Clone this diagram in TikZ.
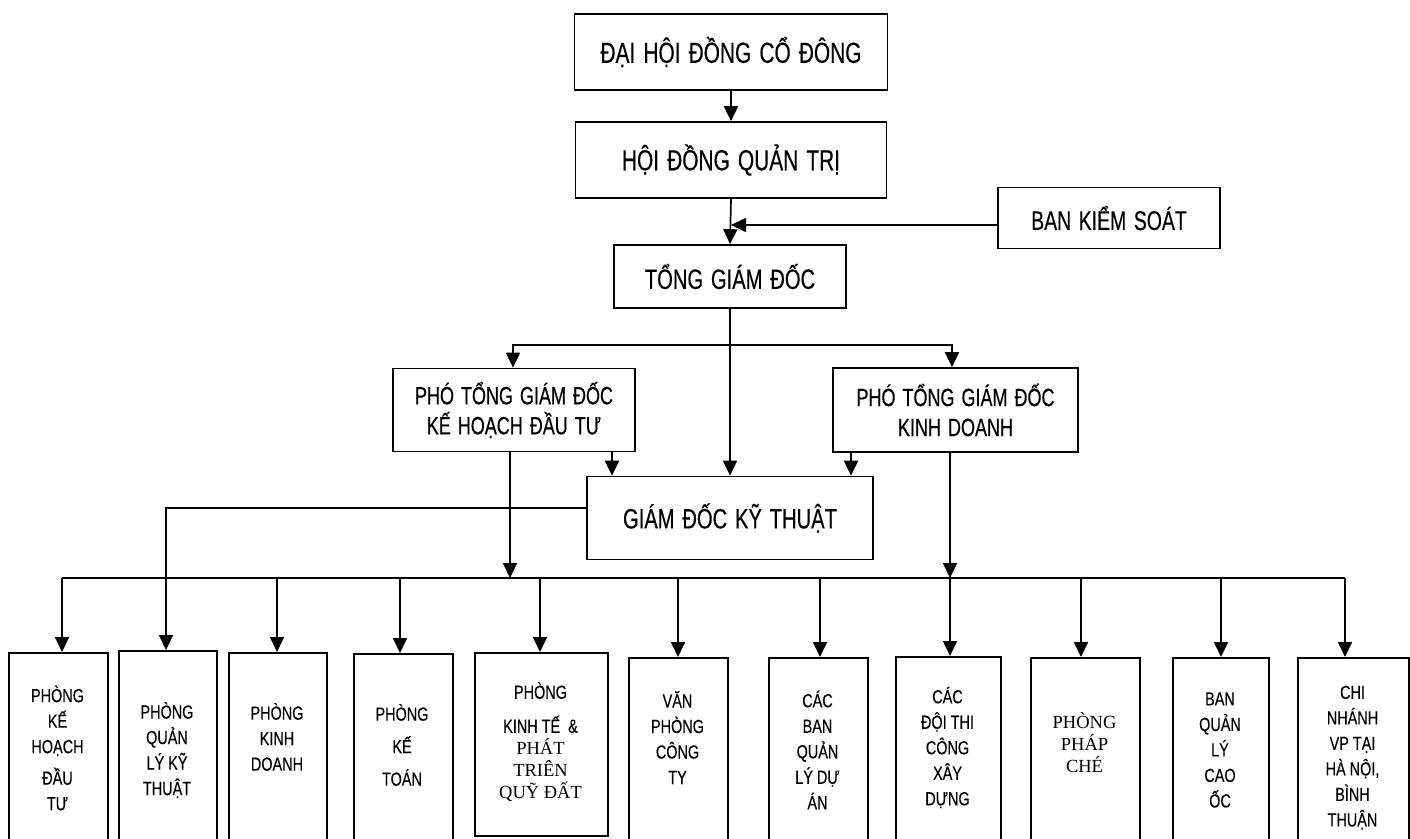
\documentclass[tikz,border=0pt]{standalone}
\usepackage{fontspec}
\setmainfont[FakeStretch=0.72,WordSpace=1.4,FakeBold=0.3]{Liberation Sans}
\newfontfamily\bfam[FakeStretch=0.76,FakeBold=0.3]{Liberation Sans}
\newfontfamily\vserif{Liberation Serif}
\usetikzlibrary{arrows.meta}
\begin{document}
\begin{tikzpicture}[x=1pt,y=-1pt,
  box/.style={draw, line width=1.7pt, inner sep=0pt, align=center},
  conn/.style={line width=1.7pt},
  arr/.style={line width=1.7pt, -{Triangle[width=14pt,length=15pt]}},
  bigtxt/.style={font=\fontsize{29}{32}\selectfont},
  midtxt/.style={font=\fontsize{25}{30}\selectfont},
  btext/.style={align=center, inner sep=0pt, font=\bfam\fontsize{19}{25.5}\selectfont},
  stext/.style={align=center, inner sep=0pt, font=\vserif\fontsize{18.5}{22}\selectfont},
]
\clip (0,0) rectangle (1410,838);
\fill[white] (0,0) rectangle (1410,838);

% upper levels
\node[box,bigtxt,minimum width=313pt,minimum height=76pt] (d1) at (731,52) {ĐẠI HỘI ĐỒNG CỔ ĐÔNG};
\node[box,bigtxt,minimum width=311pt,minimum height=76pt] (d2) at (731,160) {HỘI ĐỒNG QUẢN TRỊ};
\node[box,font=\fontsize{27}{30}\selectfont,minimum width=222pt,minimum height=61pt] (bks) at (1109,218) {BAN KIỂM SOÁT};
\node[box,font=\fontsize{28}{30}\selectfont,minimum width=232pt,minimum height=63pt] (tgd) at (730,276.5) {TỔNG GIÁM ĐỐC};
\node[box,midtxt,minimum width=242pt,minimum height=83pt] (pt1) at (514,410) {PHÓ TỔNG GIÁM ĐỐC\\KẾ HOẠCH ĐẦU TƯ};
\node[box,midtxt,minimum width=245pt,minimum height=84pt] (pt2) at (955.5,410) {PHÓ TỔNG GIÁM ĐỐC\\KINH DOANH};
\node[box,font=\fontsize{28}{30}\selectfont,minimum width=286pt,minimum height=83pt] (gdkt) at (730,518) {GIÁM ĐỐC KỸ THUẬT};

% bottom boxes
\node[box,minimum width=99pt,minimum height=240pt,anchor=north west] (b1) at (8,652) {};
\node[box,minimum width=98pt,minimum height=240pt,anchor=north west] (b2) at (118,650) {};
\node[box,minimum width=98pt,minimum height=240pt,anchor=north west] (b3) at (228,652) {};
\node[box,minimum width=99pt,minimum height=240pt,anchor=north west] (b4) at (353,653) {};
\node[box,minimum width=133pt,minimum height=183pt,anchor=north west] (b5) at (474,652) {};
\node[box,minimum width=99pt,minimum height=240pt,anchor=north west] (b6) at (628,657) {};
\node[box,minimum width=99pt,minimum height=240pt,anchor=north west] (b7) at (768,657) {};
\node[box,minimum width=105pt,minimum height=240pt,anchor=north west] (b8) at (895,656) {};
\node[box,minimum width=109pt,minimum height=240pt,anchor=north west] (b9) at (1030,657) {};
\node[box,minimum width=96pt,minimum height=240pt,anchor=north west] (b10) at (1172,657) {};
\node[box,minimum width=111pt,minimum height=240pt,anchor=north west] (b11) at (1297,657) {};

\node[btext] (t1) at (57.5,748) {PHÒNG\\KẾ\\HOẠCH\\[6pt]ĐẦU\\TƯ};
\node[btext] (t2) at (167,750) {PHÒNG\\QUẢN\\LÝ KỸ\\THUẬT};
\node[btext] (t3) at (277,737) {PHÒNG\\KINH\\DOANH};
\node[btext] (t4) at (402,745) {PHÒNG\\[7pt]KẾ\\[7pt]TOÁN};
\node[stext] (t5) at (540.5,742) {\bfam\fontsize{19}{22}\selectfont PHÒNG\\[12pt]\bfam\fontsize{19}{22}\selectfont KINH TẾ \ \&\\PHÁT\\TRIÊN\\QUỸ ĐẤT};
\node[btext] (t6) at (677.5,737.5) {VĂN\\PHÒNG\\CÔNG\\TY};
\node[btext] (t7) at (817.5,750) {CÁC\\BAN\\QUẢN\\LÝ DỰ\\ÁN};
\node[btext] (t8) at (947.5,747.5) {CÁC\\ĐỘI THI\\CÔNG\\XÂY\\DỰNG};
\node[stext] (t9) at (1084.5,743) {PHÒNG\\PHÁP\\CHÉ};
\node[btext] (t10) at (1220,750) {BAN\\QUẢN\\LÝ\\CAO\\ỐC};
\node[btext] (t11) at (1352.5,757.5) {CHI\\NHÁNH\\VP TẠI\\HÀ NỘI,\\BÌNH\\THUẬN};

% connectors (top)
\draw[arr] (d1.south) -- (d2.north);
\draw[arr] (d2.south) -- (tgd.north);
\coordinate (m) at (731,225);
\draw[arr] (bks.west |- m) -- (m);
\coordinate (br) at (730,345);
\coordinate (p1a) at (513,345);
\coordinate (p2a) at (952,345);
\draw[arr] (br) -- (p1a) -- (p1a |- pt1.north);
\draw[arr] (br) -- (p2a) -- (p2a |- pt2.north);
\draw[arr] (tgd.south) -- (gdkt.north);
\coordinate (c1) at (612,465);
\coordinate (c2) at (851,465);
\draw[arr] (c1 |- pt1.south) -- (c1 |- gdkt.north);
\draw[arr] (c2 |- pt2.south) -- (c2 |- gdkt.north);

% bus
\coordinate (j1) at (62,578);
\coordinate (j3) at (277,578);
\coordinate (j4) at (400,578);
\coordinate (j5) at (540,578);
\coordinate (j6) at (678,578);
\coordinate (j7) at (820,578);
\coordinate (j8) at (950,578);
\coordinate (j9) at (1081,578);
\coordinate (j10) at (1221,578);
\coordinate (j11) at (1345,578);
\coordinate (jp) at (510,578);
\draw[conn] (j1) -- (j11);
\draw[arr] (jp |- pt1.south) -- (jp);
\draw[arr] (j8 |- pt2.south) -- (j8);
\draw[arr] (j1) -- (j1 |- b1.north);
\draw[arr] (j3) -- (j3 |- b3.north);
\draw[arr] (j4) -- (j4 |- b4.north);
\draw[arr] (j5) -- (j5 |- b5.north);
\draw[arr] (j6) -- (j6 |- b6.north);
\draw[arr] (j7) -- (j7 |- b7.north);
\draw[arr] (j8) -- (j8 |- b8.north);
\draw[arr] (j9) -- (j9 |- b9.north);
\draw[arr] (j10) -- (j10 |- b10.north);
\draw[arr] (j11) -- (j11 |- b11.north);
\coordinate (k) at (166,508);
\draw[arr] (gdkt.west |- k) -- (k) -- (k |- b2.north);
\end{tikzpicture}
\end{document}
